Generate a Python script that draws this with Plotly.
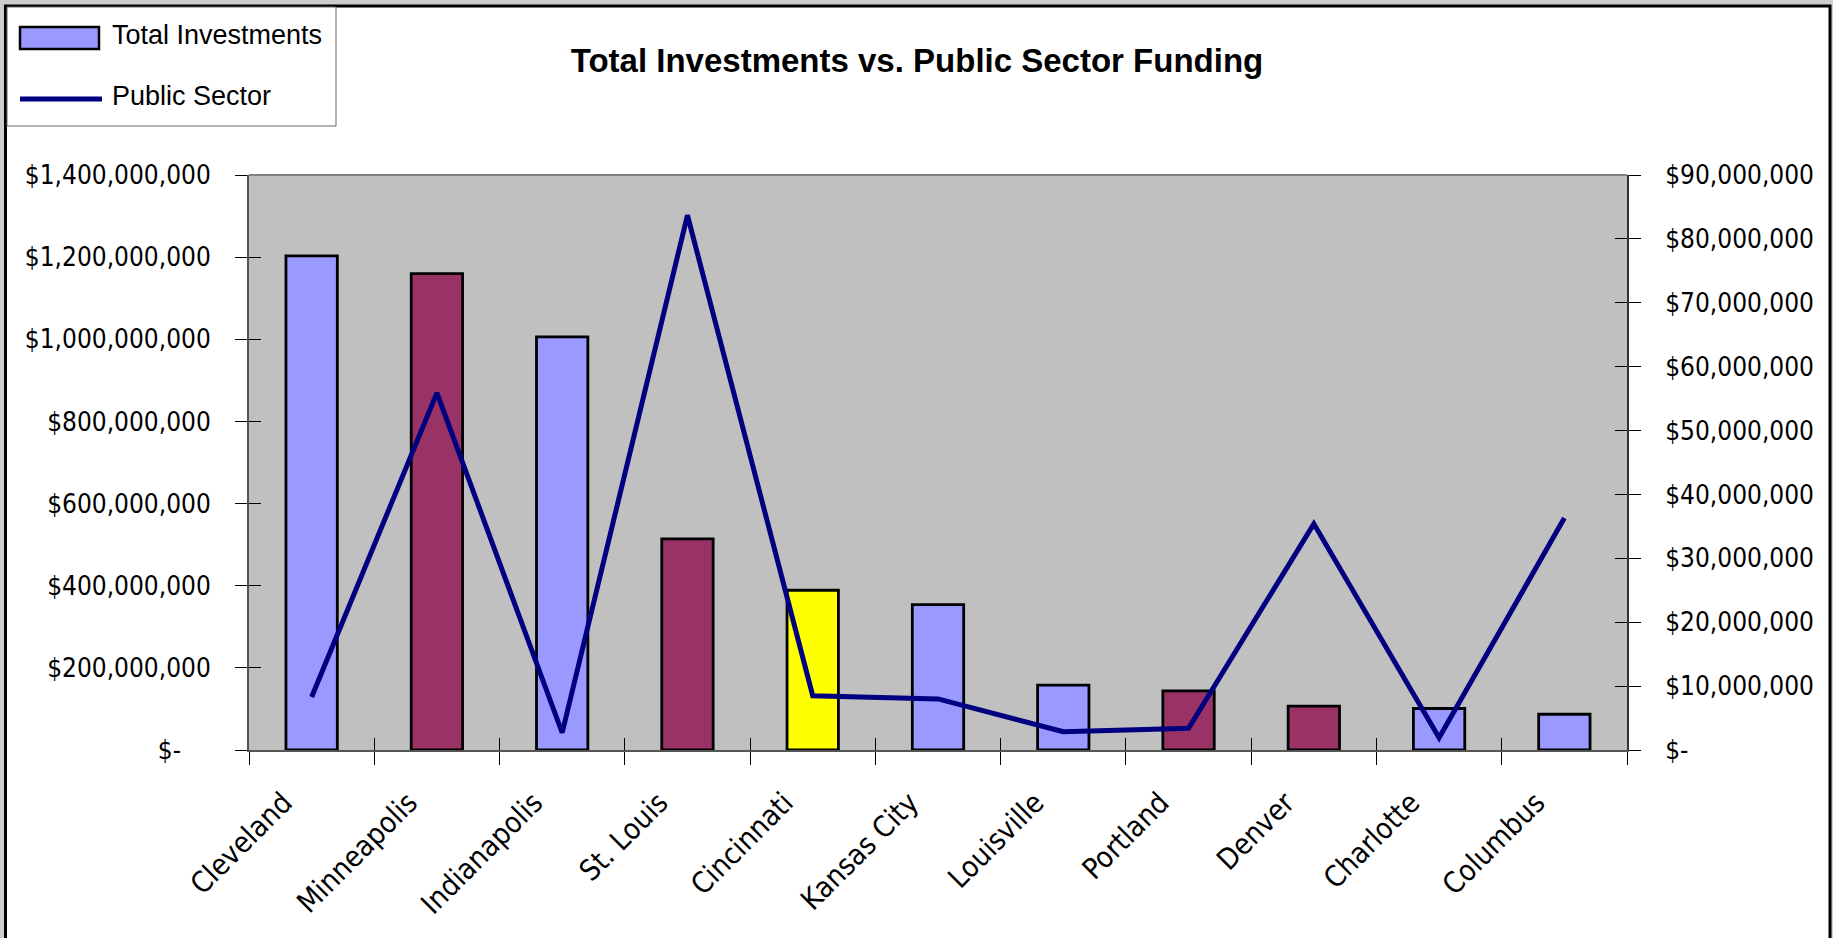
import plotly.graph_objects as go

# ---- data -------------------------------------------------------------
cities = ["Cleveland", "Minneapolis", "Indianapolis", "St. Louis", "Cincinnati",
          "Kansas City", "Louisville", "Portland", "Denver", "Charlotte", "Columbus"]
total_investments = [1203e6, 1160e6, 1006e6, 514e6, 389e6, 354e6,
                     158e6, 144e6, 107e6, 101e6, 87e6]
public_sector = [8.3e6, 55.9e6, 2.7e6, 83.7e6, 8.5e6, 8.0e6,
                 2.85e6, 3.4e6, 35.4e6, 1.9e6, 36.3e6]
bar_colors = ["#9999FF", "#993366", "#9999FF", "#993366", "#FFFF00", "#9999FF",
              "#9999FF", "#993366", "#993366", "#9999FF", "#9999FF"]

left_tickvals = [0, 200e6, 400e6, 600e6, 800e6, 1000e6, 1200e6, 1400e6]
left_ticktext = ["$-\u00a0\u00a0\u00a0\u00a0", "$200,000,000", "$400,000,000", "$600,000,000",
                 "$800,000,000", "$1,000,000,000", "$1,200,000,000", "$1,400,000,000"]
right_tickvals = [0, 10e6, 20e6, 30e6, 40e6, 50e6, 60e6, 70e6, 80e6, 90e6]
right_ticktext = ["$-", "$10,000,000", "$20,000,000", "$30,000,000", "$40,000,000",
                  "$50,000,000", "$60,000,000", "$70,000,000", "$80,000,000", "$90,000,000"]

# ---- page geometry (pixels) -------------------------------------------
W, H = 1833, 938
L, R, T, B = 249, 1627, 175, 750   # plot-area edges


def px(x):
    return (x - L) / (R - L)


def py(y):
    return (B - y) / (B - T)


NARROW = "Liberation Sans Narrow, Arial Narrow, Liberation Sans, sans-serif"
TICKFONT = "DejaVu Sans Condensed, Tahoma, DejaVu Sans, sans-serif"
NAVY = "#000080"

fig = go.Figure()

fig.add_trace(go.Bar(
    x=cities, y=total_investments, name="Total Investments",
    marker=dict(color=bar_colors, line=dict(color="black", width=2.8)),
    showlegend=False,
))
fig.add_trace(go.Scatter(
    x=cities, y=public_sector, name="Public Sector", yaxis="y2",
    mode="lines", line=dict(color=NAVY, width=5), showlegend=False,
))
# carriers for the inner half of the crossing tick marks
fig.add_trace(go.Scatter(x=cities, y=total_investments, xaxis="x2", yaxis="y3",
                         mode="lines", line=dict(width=0), opacity=0,
                         hoverinfo="skip", showlegend=False))
fig.add_trace(go.Scatter(x=cities, y=public_sector, xaxis="x2", yaxis="y4",
                         mode="lines", line=dict(width=0), opacity=0,
                         hoverinfo="skip", showlegend=False))

tick_common = dict(tickcolor="black", tickwidth=1)

fig.update_layout(
    width=W, height=H,
    margin=dict(l=L, r=W - R, t=T, b=H - B, pad=0),
    paper_bgcolor="white",
    plot_bgcolor="#C0C0C0",
    bargap=0.59,
    title=dict(
        text="<b>Total Investments vs. Public Sector Funding</b>",
        font=dict(family=NARROW, size=33, color="black"),
        x=917 / W, xanchor="center", xref="container",
        y=1 - 60 / H, yanchor="middle",
    ),
    xaxis=dict(
        type="category", range=[-0.5, 10.5], tickson="boundaries",
        ticks="outside", ticklen=13, **tick_common,
        ticklabelstandoff=22, ticklabelshift=-28,
        showline=True, linecolor="#555555", linewidth=2,
        tickangle=-45, tickfont=dict(family=TICKFONT, size=29, color="black"),
        showgrid=False, zeroline=False,
    ),
    xaxis2=dict(
        overlaying="x", matches="x", anchor="y", side="bottom",
        tickson="boundaries", ticks="inside", ticklen=12, **tick_common,
        showticklabels=False, showline=False, showgrid=False, zeroline=False,
    ),
    yaxis=dict(
        range=[0, 1.4e9], tickvals=left_tickvals, ticktext=left_ticktext,
        ticks="outside", ticklen=12, **tick_common, ticklabelstandoff=19,
        showline=True, linecolor="#555555", linewidth=2,
        tickfont=dict(family=TICKFONT, size=26, color="black"),
        showgrid=False, zeroline=False,
    ),
    yaxis2=dict(
        overlaying="y", side="right", anchor="x",
        range=[0, 9e7], tickvals=right_tickvals, ticktext=right_ticktext,
        ticks="outside", ticklen=12, **tick_common, ticklabelstandoff=19,
        showline=True, linecolor="#333333", linewidth=2,
        tickfont=dict(family=TICKFONT, size=26, color="black"),
        showgrid=False, zeroline=False,
    ),
    yaxis3=dict(
        overlaying="y", matches="y", side="left", anchor="x",
        ticks="inside", ticklen=12, **tick_common, tickvals=left_tickvals,
        showticklabels=False, showline=False, showgrid=False, zeroline=False,
    ),
    yaxis4=dict(
        overlaying="y", matches="y2", side="right", anchor="x",
        ticks="inside", ticklen=12, **tick_common, tickvals=right_tickvals,
        showticklabels=False, showline=False, showgrid=False, zeroline=False,
    ),
    showlegend=False,
)

# plot-area top edge
fig.add_shape(type="line", xref="x domain", yref="y domain", x0=0, x1=1, y0=1, y1=1,
              line=dict(color="#808080", width=2))

# outer frame: textured grey strip and black border
for x0, x1, y0, y1 in [(0, 4, 0, H), (0, W, 0, 5), (1831, W, 0, H)]:
    fig.add_shape(type="rect", xref="paper", yref="paper",
                  x0=px(x0), x1=px(x1), y0=py(y1), y1=py(y0),
                  fillcolor="#cdcdcd", line=dict(width=0), layer="below")
fig.add_shape(type="rect", xref="paper", yref="paper",
              x0=px(5.5), x1=px(1830), y0=py(H + 10), y1=py(6),
              line=dict(color="black", width=3), fillcolor="rgba(0,0,0,0)")

# legend
fig.add_shape(type="rect", xref="paper", yref="paper",
              x0=px(7), x1=px(336), y0=py(126), y1=py(7),
              line=dict(color="#666666", width=1), fillcolor="white")
fig.add_shape(type="rect", xref="paper", yref="paper",
              x0=px(20), x1=px(99), y0=py(49), y1=py(27),
              line=dict(color="black", width=2.5), fillcolor="#9999FF")
fig.add_shape(type="line", xref="paper", yref="paper",
              x0=px(20), x1=px(102), y0=py(99), y1=py(99),
              line=dict(color=NAVY, width=5))
for label, yc in [("Total Investments", 35), ("Public Sector", 96)]:
    fig.add_annotation(text=label, xref="paper", yref="paper",
                       x=px(110), y=py(yc), xanchor="left", yanchor="middle",
                       showarrow=False,
                       font=dict(family=NARROW, size=27, color="black"))

fig.write_html("out.html")
